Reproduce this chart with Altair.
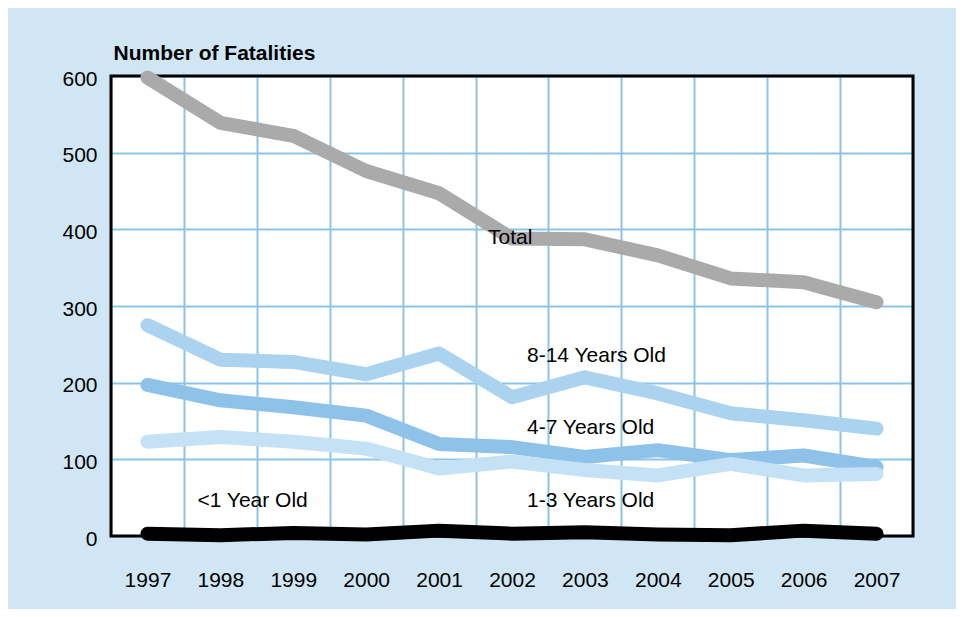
import altair as alt
import pandas as pd

# ---- data ----
years = ["1997", "1998", "1999", "2000", "2001", "2002", "2003", "2004", "2005", "2006", "2007"]
total = [598, 539, 522, 476, 447, 388, 387, 366, 336, 331, 305]
age_8_14 = [275, 230, 227, 211, 238, 181, 207, 186, 160, 151, 140]
age_4_7 = [197, 177, 168, 157, 120, 116, 103, 112, 99, 105, 90]
age_1_3 = [123, 129, 123, 114, 88, 97, 86, 79, 94, 79, 81]
under_1 = [3, 1, 4, 2, 7, 3, 5, 2, 1, 7, 3]

series_names = ["Total", "8-14 Years Old", "4-7 Years Old", "1-3 Years Old", "<1 Year Old"]
series_values = [total, age_8_14, age_4_7, age_1_3, under_1]
series_colors = ["#aaaaab", "#abd3ef", "#8ec2e9", "#c4e1f5", "#000000"]

label_texts = ["Total", "8-14 Years Old", "4-7 Years Old", "1-3 Years Old", "<1 Year Old"]
label_years = ["2002", "2002", "2002", "2002", "1997"]
label_values = [389, 235, 141, 46, 46]
label_dx = [-24, 15, 15, 15, 50]

y_ticks = [0, 100, 200, 300, 400, 500, 600]
y_domain = [0, 600]

FONT = "Liberation Sans"
FS = 21
GRID = "#8cc3ea"
PANEL = "#d0e6f4"

x_scale = alt.Scale(type="band", domain=years, paddingInner=0, paddingOuter=0)
y_scale = alt.Scale(domain=y_domain, nice=False)

x_axis = alt.Axis(
    title=None, labelAngle=0, labelFontSize=FS, labelFont=FONT, labelColor="black",
    labelBaseline="alphabetic", labelPadding=50, ticks=False, domain=False,
    grid=True, gridColor=GRID, gridWidth=2, gridOpacity=1, tickBand="extent",
)
y_axis = alt.Axis(
    title="Number of Fatalities", titleAngle=0, titleAlign="left",
    titleBaseline="alphabetic", titleX=2, titleY=-17, titleFontSize=FS,
    titleFontWeight="bold", titleFont=FONT, titleColor="black",
    values=y_ticks, labelFontSize=FS, labelFont=FONT, labelColor="black",
    labelBaseline="middle", labelOffset=3,
    labelPadding=14, ticks=False, domain=False, grid=True, gridColor=GRID,
    gridWidth=2, gridOpacity=1,
)


def xenc():
    return alt.X("year:O", scale=x_scale, axis=x_axis, bandPosition=0.5)


def yenc():
    return alt.Y("value:Q", scale=y_scale, axis=y_axis)


layers = []

# plot frame drawn above the grid, below the lines
frame_df = pd.DataFrame({"lo": [y_domain[0]], "hi": [y_domain[1]]})
layers.append(
    alt.Chart(frame_df).mark_rect(
        fillOpacity=0, stroke="black", strokeWidth=3
    ).encode(
        x=alt.value(0), x2=alt.value(802),
        y=alt.Y("lo:Q", scale=y_scale, axis=y_axis), y2="hi:Q",
    )
)

for name, vals, col in zip(series_names, series_values, series_colors):
    df = pd.DataFrame({"year": years, "value": vals, "series": name})
    layers.append(
        alt.Chart(df).mark_line(
            color=col, strokeWidth=14, strokeCap="round", strokeJoin="round"
        ).encode(x=xenc(), y=yenc())
    )

for txt, yr, val, dx in zip(label_texts, label_years, label_values, label_dx):
    df = pd.DataFrame({"year": [yr], "value": [val], "label": [txt]})
    layers.append(
        alt.Chart(df).mark_text(
            align="left", baseline="middle", dx=dx, fontSize=FS, font=FONT, color="black"
        ).encode(x=xenc(), y=yenc(), text="label:N")
    )

chart = alt.layer(*layers).properties(
    width=802,
    height=460,
    autosize=alt.AutoSizeParams(type="none"),
    padding={"left": 103, "top": 68, "right": 43, "bottom": 73},
    background=PANEL,
).configure_view(
    fill="white", stroke=None
)

chart.save("out.html", embed_options={"renderer": "svg", "actions": False})
